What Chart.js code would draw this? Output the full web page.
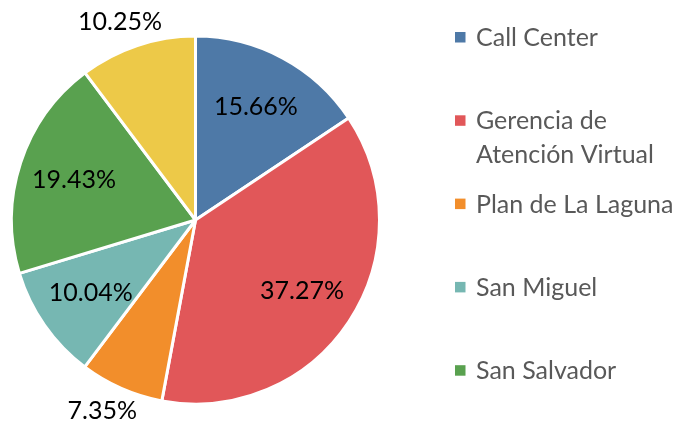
<!DOCTYPE html>
<html>
<head>
<meta charset="utf-8">
<script src="https://cdn.jsdelivr.net/npm/chart.js@4/dist/chart.umd.min.js"></script>
<style>
  html, body { margin: 0; padding: 0; background: #fff; }
  #wrap { width: 682px; height: 426px; }
</style>
</head>
<body>
<div id="wrap"><canvas id="myChart"></canvas></div>
<script>
const categories = ['Call Center', 'Gerencia de Atención Virtual', 'Plan de La Laguna', 'San Miguel', 'San Salvador', 'Santa Ana'];
const shares = [15.66, 37.27, 7.35, 10.04, 19.43, 10.25];
const sliceColors = ['#4e79a7', '#e15759', '#f28e2b', '#76b7b2', '#59a14f', '#edc948'];
const outsideLabels = ['Plan de La Laguna', 'Santa Ana'];

const labelFont = '25px Lato';
const legendFont = '25px Lato';

// percentage labels, inside or just outside each slice
const sliceLabels = {
    id: 'sliceLabels',
    afterDatasetsDraw(chart) {
        const ctx = chart.ctx;
        const meta = chart.getDatasetMeta(0);
        const bw = chart.data.datasets[0].borderWidth;
        ctx.save();
        ctx.font = labelFont;
        ctx.fillStyle = '#000';
        ctx.textAlign = 'center';
        ctx.textBaseline = 'middle';
        meta.data.forEach((arc, i) => {
            const p = arc.getProps(['x', 'y', 'startAngle', 'endAngle', 'outerRadius'], true);
            const r = p.outerRadius - bw / 2;
            const mid = (p.startAngle + p.endAngle) / 2;
            const dx = Math.cos(mid), dy = Math.sin(mid);
            const text = shares[i].toFixed(2) + '%';
            let tx, ty;
            if (outsideLabels.includes(categories[i])) {
                const w = ctx.measureText(text).width;
                tx = p.x + (r + 14) * dx + dx * w / 2;
                ty = p.y + (r + 14) * dy + dy * 12;
            } else {
                tx = p.x + 0.7 * r * dx;
                ty = p.y + 0.7 * r * dy;
            }
            ctx.fillText(text, tx, ty);
        });
        ctx.restore();
    }
};

function wrapWords(ctx, text, maxWidth) {
    const words = text.split(' ');
    const lines = [];
    let line = '';
    for (let w of words) {
        const test = line ? line + ' ' + w : w;
        if (line && ctx.measureText(test).width > maxWidth) {
            lines.push(line);
            line = w;
        } else {
            line = test;
        }
    }
    lines.push(line);
    return lines;
}

// legend on the right, evenly spaced entries
const sideLegend = {
    id: 'sideLegend',
    afterDraw(chart) {
        const ctx = chart.ctx;
        const boxX = 455, textX = 476, firstY = 37, step = 83.3, lineH = 34;
        ctx.save();
        ctx.font = legendFont;
        ctx.textBaseline = 'middle';
        categories.forEach((name, i) => {
            const y = firstY + i * step;
            ctx.fillStyle = sliceColors[i];
            ctx.fillRect(boxX, y - 5, 10.5, 10.5);
            ctx.fillStyle = '#595959';
            const lines = wrapWords(ctx, name, chart.width - textX - 2);
            lines.forEach((l, j) => ctx.fillText(l, textX, y + j * lineH + 1));
        });
        ctx.restore();
    }
};

const config = {
    type: 'pie',
    data: {
        labels: categories,
        datasets: [{
            data: shares,
            backgroundColor: sliceColors,
            borderColor: '#ffffff',
            borderWidth: 3
        }]
    },
    options: {
        responsive: true,
        maintainAspectRatio: false,
        animation: false,
        layout: { padding: { left: 10, top: 34.5, right: 301, bottom: 20.5 } },
        plugins: {
            legend: { display: false },
            tooltip: { enabled: false }
        }
    },
    plugins: [sliceLabels, sideLegend]
};

let myChart = null;
document.fonts.load(legendFont).then(() => {
    myChart = new Chart(document.getElementById('myChart'), config);
});
</script>
</body>
</html>
